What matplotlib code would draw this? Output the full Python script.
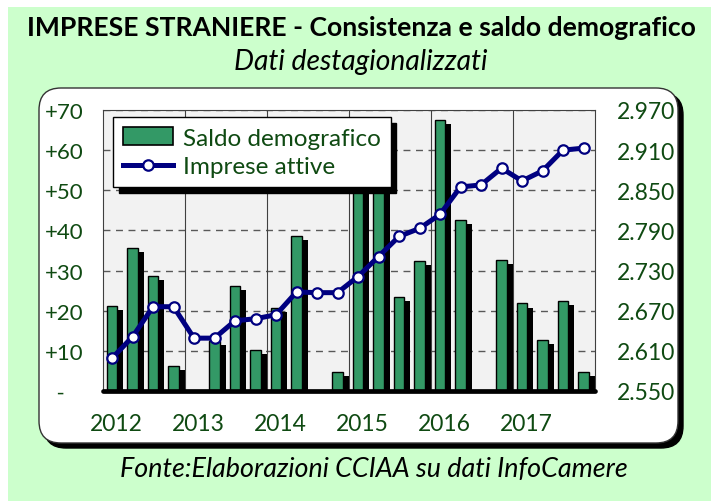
import matplotlib
matplotlib.use('Agg')
import matplotlib.pyplot as plt
from matplotlib.patches import FancyBboxPatch, Rectangle, Patch
from matplotlib.transforms import IdentityTransform
from matplotlib.lines import Line2D
import numpy as np

# ---------------- data ----------------
years = ['2012', '2013', '2014', '2015', '2016', '2017']
saldo = [21.2, 35.6, 28.7, 6.3, 0.0, 12.5, 26.2, 10.3, 20.8, 38.7, 0.0, 4.8,
         57.0, 62.0, 23.3, 32.3, 67.5, 42.7, 0.0, 32.7, 21.8, 12.8, 22.3, 4.8]
imprese = [2599, 2631, 2676, 2676, 2629, 2629, 2655, 2658, 2664, 2698, 2697, 2697,
           2721, 2751, 2781, 2793, 2814, 2855, 2858, 2883, 2864, 2879, 2910, 2913]
left_ticks = [0, 10, 20, 30, 40, 50, 60, 70]
left_labels = ['  -', '+10', '+20', '+30', '+40', '+50', '+60', '+70']
right_ticks = [2550, 2610, 2670, 2730, 2790, 2850, 2910, 2970]
right_labels = ['2.550', '2.610', '2.670', '2.730', '2.790', '2.850', '2.910', '2.970']

W, H = 711, 502
plt.rcParams['font.family'] = ['Lato', 'DejaVu Sans']
GREEN_TXT = '#0f4a12'
BAR = '#339966'
NAVY = '#000080'

fig = plt.figure(figsize=(W / 100, H / 100), dpi=100)
fig.patch.set_facecolor('white')
ident = IdentityTransform()

# green background
bg = Rectangle((8, 0), W - 8, H - 8, transform=ident, facecolor='#ccffcc',
               edgecolor='none', zorder=-10)
fig.add_artist(bg)

# white rounded frame with black shadow
fx0, fx1, ftop, fbot = 39, 678, 89, 444
shadow = FancyBboxPatch((fx0 + 5, H - fbot - 5), fx1 - fx0, fbot - ftop,
                        boxstyle='round,pad=0,rounding_size=22', transform=ident,
                        facecolor='black', edgecolor='black', zorder=-9)
fig.add_artist(shadow)
frame = FancyBboxPatch((fx0, H - fbot), fx1 - fx0, fbot - ftop,
                       boxstyle='round,pad=0,rounding_size=22', transform=ident,
                       facecolor='white', edgecolor='#333333', linewidth=1, zorder=-8)
fig.add_artist(frame)

# axes
pl, pr, pt, pb = 103, 595, 111, 392
ax = fig.add_axes([pl / W, (H - pb) / H, (pr - pl) / W, (pb - pt) / H])
ax.set_facecolor('#f2f2f2')
n = len(saldo)
x = np.arange(n)
ax.set_xlim(-0.5, n - 0.5)
ax.set_ylim(0, 70)

for t in left_ticks[1:]:
    ax.axhline(t, color='#595959', lw=1.0, dashes=(5, 4), zorder=1)
for b in range(4, n, 4):
    ax.axvline(b - 0.5, color='#404040', lw=0.8, zorder=1)

vals = np.array(saldo)
mask = vals > 0
ax.bar(x[mask] + 0.23, np.maximum(vals[mask] - 1.0, 0), width=0.52,
       color='black', zorder=2)
ax.bar(x[mask] - 0.06, vals[mask], width=0.52, color=BAR, edgecolor='black',
       linewidth=1.0, zorder=3)

for s in ['top', 'left', 'right']:
    ax.spines[s].set_color('#404040')
    ax.spines[s].set_linewidth(0.8)
ax.spines['bottom'].set_linewidth(3.4)
ax.spines['bottom'].set_capstyle('round')
ax.spines['bottom'].set_zorder(6)

ax.set_yticks(left_ticks, left_labels)
ax.tick_params(axis='y', length=0, pad=41.5, labelsize=16, labelcolor=GREEN_TXT)
for lbl in ax.get_yticklabels():
    lbl.set_horizontalalignment('left')
ax.set_xticks(np.arange(0, n, 4) + 0.15, years)
ax.tick_params(axis='x', length=0, pad=15.5, labelsize=16.5, labelcolor=GREEN_TXT)

ax2 = ax.twinx()
ax2.set_ylim(2550, 2970)
ax2.plot(x - 0.06, imprese, color=NAVY, lw=3.6, marker='o', ms=7.5,
         mfc='white', mec=NAVY, mew=1.6, zorder=5, solid_joinstyle='round')
ax2.set_yticks(right_ticks, right_labels)
ax2.tick_params(axis='y', length=0, pad=15.5, labelsize=16.5, labelcolor=GREEN_TXT)
for s in ax2.spines.values():
    s.set_visible(False)

handles = [Patch(facecolor=BAR, edgecolor='black', linewidth=1.2),
           Line2D([], [], color=NAVY, lw=3.6, marker='o', ms=7.5, mfc='white',
                  mec=NAVY, mew=1.6)]
leg = ax2.legend(handles, ['Saldo demografico', 'Imprese attive'],
                 loc='upper left', bbox_to_anchor=((113 - pl) / (pr - pl), (pb - 118) / (pb - pt)),
                 borderaxespad=0, fontsize=17.5, labelcolor=GREEN_TXT, frameon=True,
                 fancybox=False, edgecolor='black', framealpha=1, facecolor='white',
                 handlelength=2.05, handleheight=0.75, handletextpad=0.4,
                 borderpad=0.42, labelspacing=0.3,
                 shadow={'ox': 4, 'oy': -4, 'color': 'black', 'alpha': 1})
leg.get_frame().set_linewidth(1.0)
leg.set_zorder(10)

# texts
title = fig.text(361.5 / W, 1 - 28 / H, 'IMPRESE STRANIERE - Consistenza e saldo demografico',
                 ha='center', va='center', fontsize=17, fontweight='bold', color='black')
sub = fig.text(361 / W, 1 - 62 / H, 'Dati destagionalizzati', ha='center', va='center',
               fontsize=15, fontstyle='italic', color='black')
foot = fig.text(374 / W, 1 - 470 / H, 'Fonte:Elaborazioni CCIAA su dati InfoCamere',
                ha='center', va='center', fontsize=15, fontstyle='italic', color='black')

renderer = fig.canvas.get_renderer()
for t, target in [(title, 667), (sub, 254), (foot, 508)]:
    w = t.get_window_extent(renderer).width
    t.set_fontsize(t.get_fontsize() * target / w)

fig.savefig('out.png', dpi=100)
